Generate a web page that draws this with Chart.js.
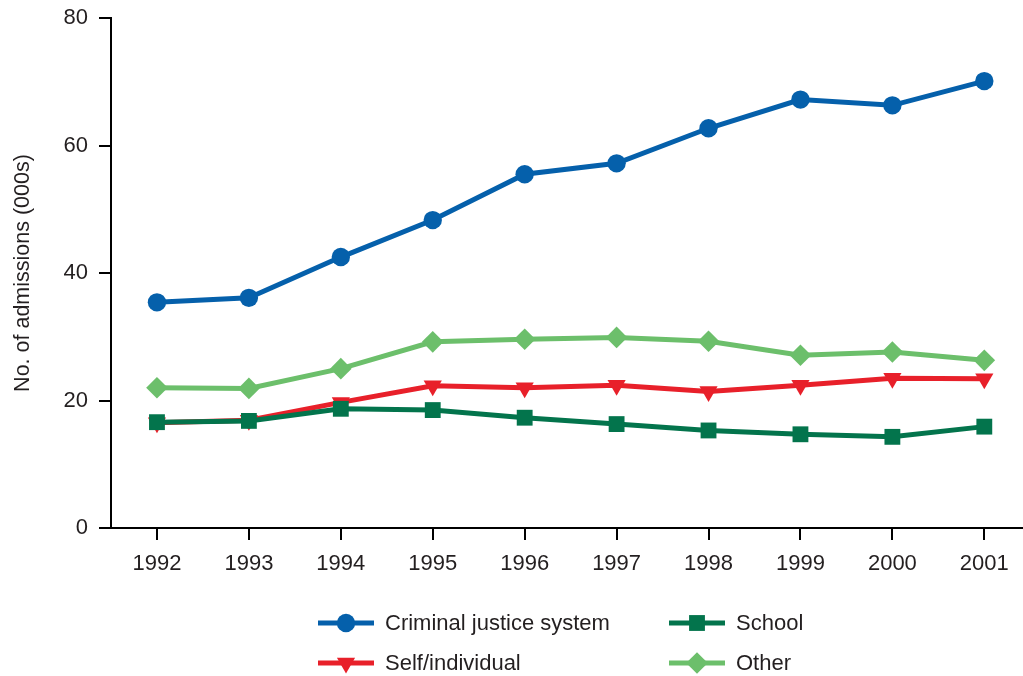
<!DOCTYPE html>
<html>
<head>
<meta charset="utf-8">
<script src="https://cdn.jsdelivr.net/npm/chart.js@4/dist/chart.umd.min.js"></script>
<style>
  html, body { margin: 0; padding: 0; background: #fff; }
  #wrap { width: 1023px; height: 676px; position: relative; }
</style>
</head>
<body>
<div id="wrap"><canvas id="chart" width="1023" height="676"></canvas></div>
<script>
// data
const years = [1992, 1993, 1994, 1995, 1996, 1997, 1998, 1999, 2000, 2001];
const criminal = [35.4, 36.1, 42.5, 48.3, 55.5, 57.2, 62.7, 67.2, 66.3, 70.1];
const school = [16.6, 16.8, 18.7, 18.5, 17.3, 16.3, 15.3, 14.7, 14.3, 15.9];
const self = [16.5, 16.9, 19.7, 22.3, 22.0, 22.4, 21.4, 22.4, 23.5, 23.4];
const other = [22.0, 21.9, 25.0, 29.2, 29.6, 29.9, 29.3, 27.1, 27.6, 26.3];
const yTicks = [0, 20, 40, 60, 80];

const textColor = "#231f20";
const font = "'Liberation Sans', Arial, sans-serif";

function pts(vals) {
    return years.map((y, i) => ({ x: y, y: vals[i] }));
}

function ds(label, vals, color, style, radius, rotation) {
    return {
        label: label,
        data: pts(vals),
        borderColor: color,
        backgroundColor: color,
        borderWidth: 5,
        pointStyle: style,
        pointRadius: radius,
        pointRotation: rotation || 0,
        pointBorderWidth: 0,
        pointBackgroundColor: color,
        fill: false,
        tension: 0
    };
}

const datasets = [
    ds("Criminal justice system", criminal, "#0560ab", "circle", 9.2),
    ds("School", school, "#03744c", "rect", 11.2),
    ds("Self/individual", self, "#e8202a", "triangle", 10.5, 180),
    ds("Other", other, "#6cbf6b", "rectRot", 10.8)
];

// legend laid out in two columns like the original
const legendSlots = [
    { x: 318, y: 623 }, { x: 669, y: 623 },
    { x: 318, y: 663 }, { x: 669, y: 663 }
];

const legendPlugin = {
    id: "colLegend",
    afterDraw(chart) {
        const ctx = chart.ctx;
        ctx.save();
        chart.data.datasets.forEach((d, i) => {
            const s = legendSlots[i];
            ctx.strokeStyle = d.borderColor;
            ctx.lineWidth = 5;
            ctx.beginPath();
            ctx.moveTo(s.x, s.y);
            ctx.lineTo(s.x + 56, s.y);
            ctx.stroke();
            ctx.fillStyle = d.borderColor;
            Chart.helpers.drawPoint(ctx, {
                pointStyle: d.pointStyle,
                radius: d.pointRadius,
                rotation: d.pointRotation,
                borderWidth: 0
            }, s.x + 28, s.y);
            ctx.fillStyle = textColor;
            ctx.font = "22px " + font;
            ctx.textBaseline = "middle";
            ctx.textAlign = "left";
            ctx.fillText(d.label, s.x + 67, s.y + 1);
        });
        ctx.restore();
    }
};

new Chart(document.getElementById("chart"), {
    type: "line",
    data: { datasets: datasets },
    plugins: [legendPlugin],
    options: {
        responsive: false,
        animation: false,
        layout: { autoPadding: false, padding: { top: 18, right: 1, left: 0, bottom: 0 } },
        plugins: {
            legend: { display: false },
            tooltip: { enabled: false }
        },
        scales: {
            x: {
                type: "linear",
                min: 1991.5,
                max: 2001.41,
                afterFit: s => { s.height = 148; s.paddingLeft = 0; s.paddingRight = 0; },
                afterBuildTicks: s => { s.ticks = years.map(v => ({ value: v })); },
                border: { display: true, color: "#000", width: 2 },
                grid: { drawOnChartArea: false, drawTicks: true, tickLength: 12, color: "#000", lineWidth: 2 },
                ticks: {
                    color: textColor,
                    font: { family: font, size: 22 },
                    padding: 11,
                    maxRotation: 0,
                    callback: v => String(v)
                }
            },
            y: {
                min: 0,
                max: 80,
                afterFit: s => { s.width = 111; s.paddingTop = 0; s.paddingBottom = 0; },
                afterBuildTicks: s => { s.ticks = yTicks.map(v => ({ value: v })); },
                border: { display: true, color: "#000", width: 2 },
                grid: { drawOnChartArea: false, drawTicks: true, tickLength: 12, color: "#000", lineWidth: 2 },
                ticks: {
                    color: textColor,
                    font: { family: font, size: 22 },
                    padding: 11
                },
                title: {
                    display: true,
                    text: "No. of admissions (000s)",
                    color: textColor,
                    font: { family: font, size: 21.5 },
                    padding: { top: 10, bottom: 0 }
                }
            }
        }
    }
});
</script>
</body>
</html>
